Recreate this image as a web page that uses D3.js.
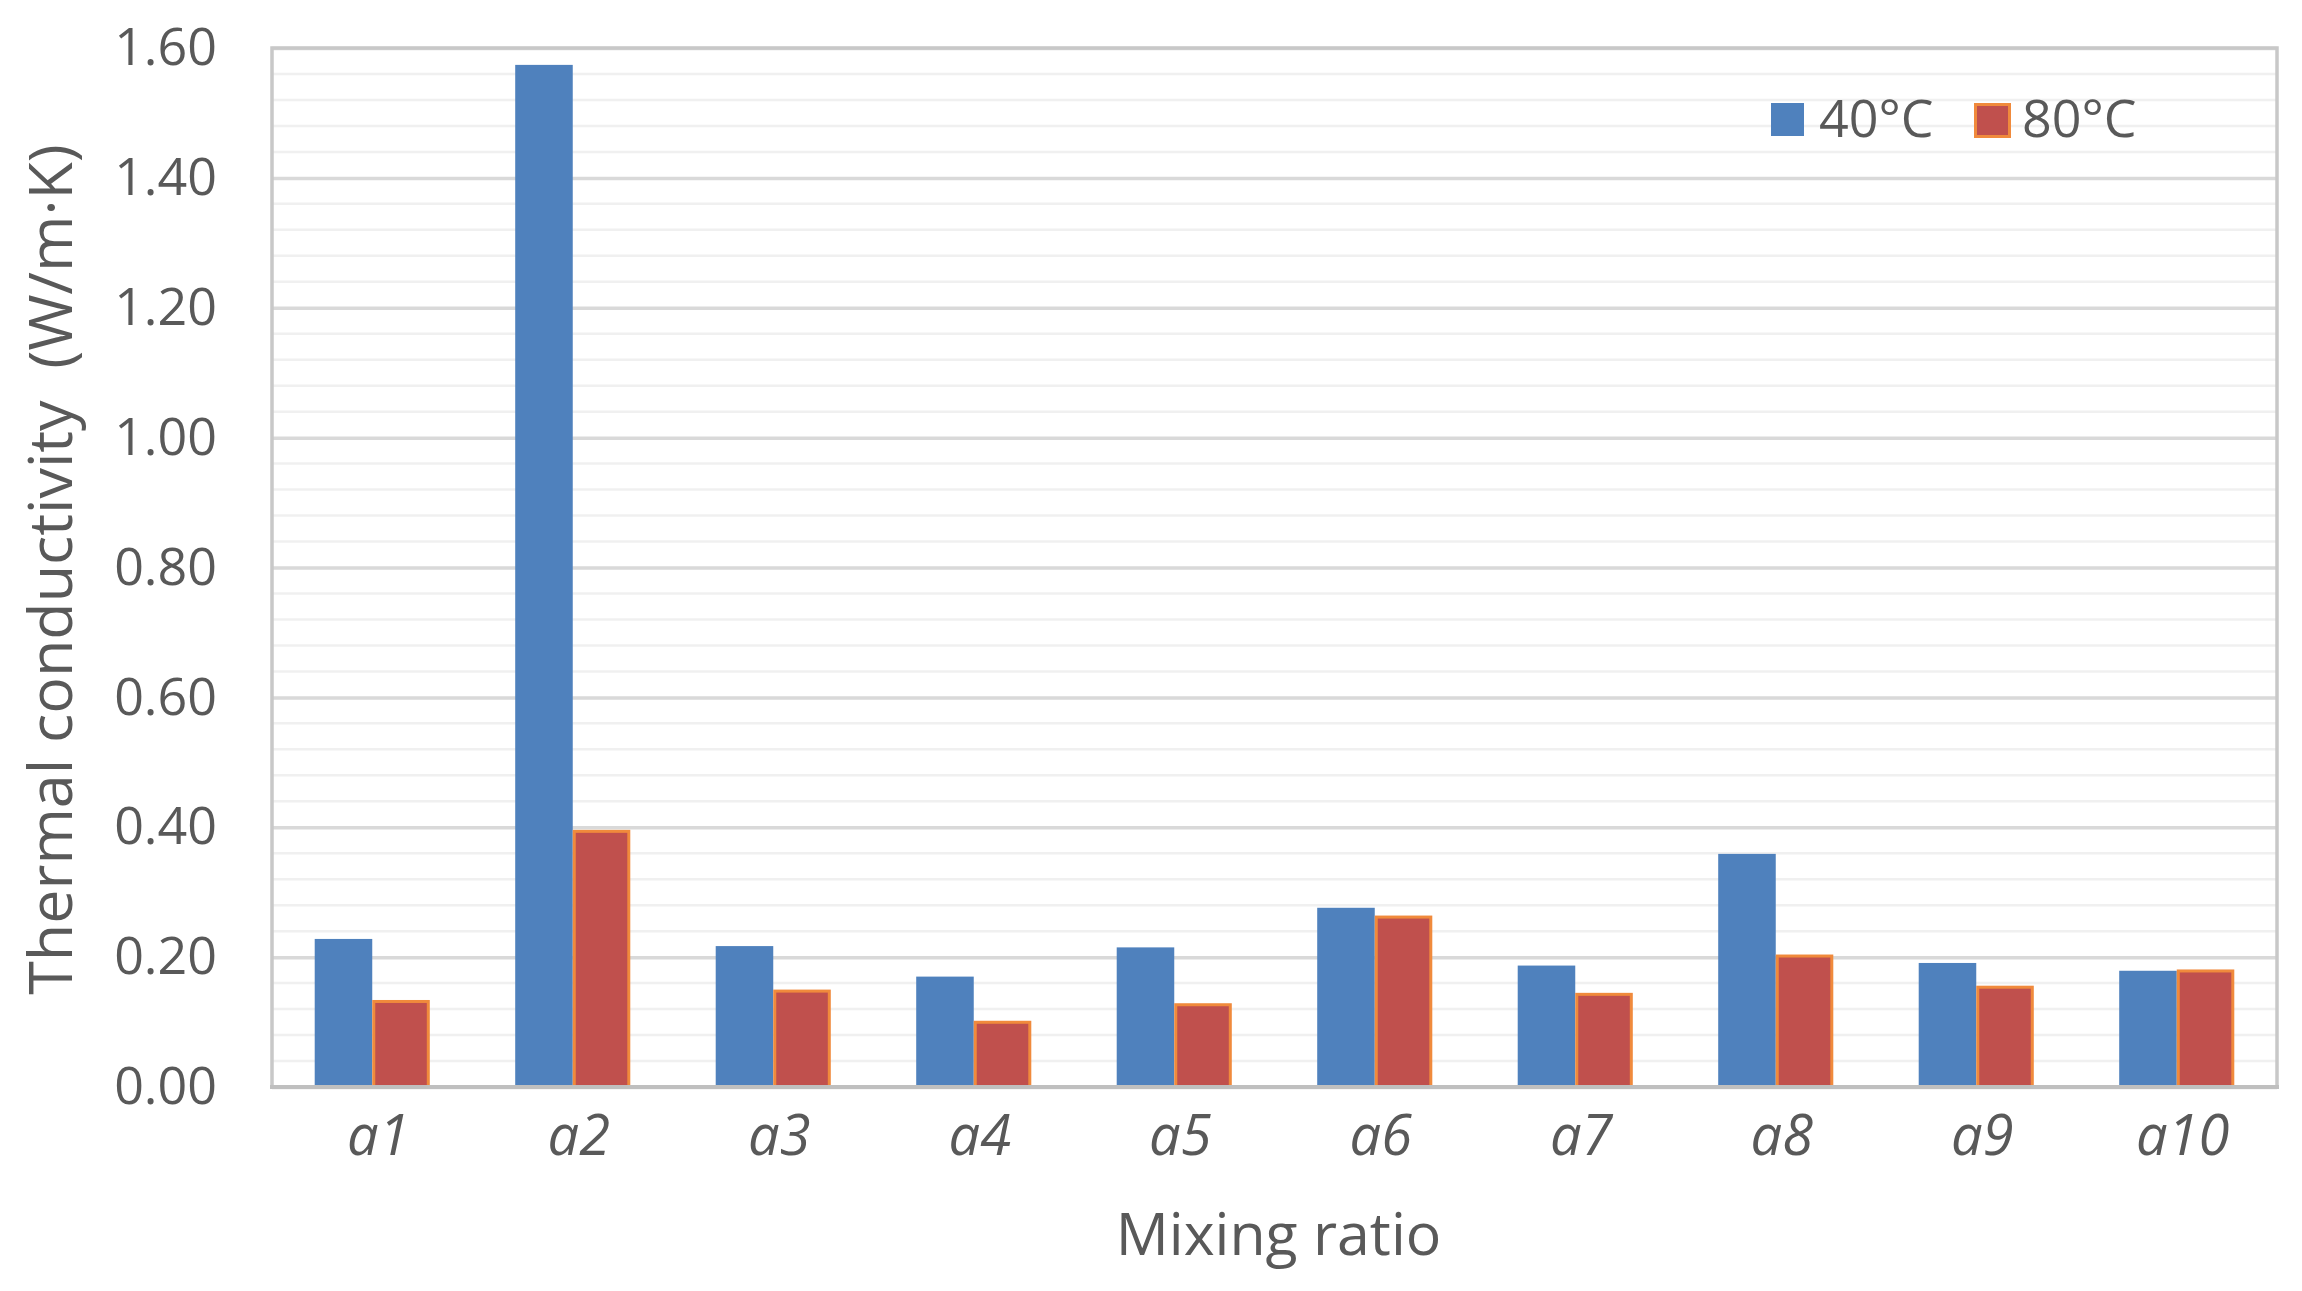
<!DOCTYPE html>
<html>
<head>
<meta charset="utf-8">
<script src="https://cdn.jsdelivr.net/npm/d3@7"></script>
<style>
  html, body { margin: 0; padding: 0; background: #fff; }
  svg { display: block; }
  text { font-family: "Open Sans", "Noto Sans", sans-serif; fill: #595959; }
</style>
</head>
<body>
<svg id="chart" width="2302" height="1291"></svg>
<script>
const categories = ['a1', 'a2', 'a3', 'a4', 'a5', 'a6', 'a7', 'a8', 'a9', 'a10'];
const series = ['40°C', '80°C'];
const values40 = [0.228, 1.574, 0.217, 0.170, 0.215, 0.276, 0.187, 0.359, 0.191, 0.179];
const values80 = [0.134, 0.396, 0.150, 0.102, 0.129, 0.264, 0.145, 0.204, 0.156, 0.181];
const yTicks = [0, 0.2, 0.4, 0.6, 0.8, 1.0, 1.2, 1.4, 1.6];
const yMinorStep = 0.04;

const W = 2302, H = 1291;
const margin = { left: 272, right: W - 2277, top: 48, bottom: H - 1087 };

const fills = { '40°C': '#4f81bd', '80°C': '#c0504d' };
const strokes = { '40°C': 'none', '80°C': '#f08a3c' };

const svg = d3.select('#chart');

const x0 = d3.scaleBand()
  .domain(categories)
  .range([margin.left, W - margin.right])
  .paddingInner(0.426)
  .paddingOuter(0.213);

const x1 = d3.scaleBand()
  .domain(series)
  .range([0, x0.bandwidth()]);

const y = d3.scaleLinear()
  .domain([0, 1.6])
  .range([H - margin.bottom, margin.top]);

// minor gridlines
const minor = d3.range(0, 1.6 + 1e-9, yMinorStep).filter(v => Math.abs(v / 0.2 - Math.round(v / 0.2)) > 1e-6);
svg.append('g')
  .selectAll('line')
  .data(minor)
  .join('line')
  .attr('x1', margin.left)
  .attr('x2', W - margin.right)
  .attr('y1', d => y(d))
  .attr('y2', d => y(d))
  .attr('stroke', '#f0f0f0')
  .attr('stroke-width', 2.5);

// major gridlines + tick labels via axis
const yAxis = svg.append('g')
  .attr('transform', `translate(${margin.left},0)`)
  .call(d3.axisLeft(y)
    .tickValues(yTicks)
    .tickSize(-(W - margin.left - margin.right))
    .tickPadding(55)
    .tickFormat(d3.format('.2f')));
yAxis.select('.domain').remove();
yAxis.selectAll('.tick line')
  .attr('stroke', '#d9d9d9')
  .attr('stroke-width', 3.5);
yAxis.selectAll('.tick text')
  .attr('font-size', 52)
  .attr('fill', '#595959')
  .attr('font-family', '"Open Sans", sans-serif');

// plot border
svg.append('rect')
  .attr('x', margin.left)
  .attr('y', margin.top)
  .attr('width', W - margin.left - margin.right)
  .attr('height', H - margin.top - margin.bottom)
  .attr('fill', 'none')
  .attr('stroke', '#c8c8c8')
  .attr('stroke-width', 3.5);

// bars
const rows = categories.map((c, i) => ({ cat: c, vals: [
  { key: '40°C', v: values40[i] },
  { key: '80°C', v: values80[i] }
] }));

const groups = svg.append('g')
  .selectAll('g')
  .data(rows)
  .join('g')
  .attr('transform', d => `translate(${x0(d.cat)},0)`);

groups.selectAll('rect')
  .data(d => d.vals)
  .join('rect')
  .attr('x', d => x1(d.key) + (d.key === '80°C' ? 1.5 : 0))
  .attr('width', d => x1.bandwidth() - (d.key === '80°C' ? 3 : 0))
  .attr('y', d => y(d.v) + (d.key === '80°C' ? 1.5 : 0))
  .attr('height', d => y(0) - y(d.v) - (d.key === '80°C' ? 1.5 : 0))
  .attr('fill', d => fills[d.key])
  .attr('stroke', d => strokes[d.key])
  .attr('stroke-width', 3);

// bottom axis line
svg.append('line')
  .attr('x1', margin.left - 2)
  .attr('x2', W - margin.right + 2)
  .attr('y1', y(0))
  .attr('y2', y(0))
  .attr('stroke', '#bfbfbf')
  .attr('stroke-width', 4);

// category labels
const xAxis = svg.append('g')
  .attr('transform', `translate(0,${y(0)})`)
  .call(d3.axisBottom(x0).tickSize(0).tickPadding(28));
xAxis.select('.domain').remove();
xAxis.selectAll('.tick text')
  .attr('font-size', 56)
  .attr('font-style', 'italic')
  .attr('dx', 6)
  .attr('fill', '#595959')
  .attr('font-family', '"Open Sans", sans-serif');

// axis titles
svg.append('text')
  .attr('x', (margin.left + W - margin.right) / 2 + 4)
  .attr('y', 1255)
  .attr('text-anchor', 'middle')
  .attr('font-size', 59)
  .text('Mixing ratio');

svg.append('text')
  .attr('transform', `translate(72,${(margin.top + H - margin.bottom) / 2 + 2}) rotate(-90)`)
  .attr('text-anchor', 'middle')
  .attr('font-size', 61)
  .attr('xml:space', 'preserve')
  .style('white-space', 'pre')
  .text('Thermal conductivity  (W/m·K)');

// legend
const legendX = [1771, 1974];
const legend = svg.append('g')
  .selectAll('g')
  .data(series)
  .join('g')
  .attr('transform', (d, i) => `translate(${legendX[i]},103)`);
legend.append('rect')
  .attr('x', d => d === '80°C' ? 1.5 : 0)
  .attr('y', d => d === '80°C' ? 1.5 : 0)
  .attr('width', d => d === '80°C' ? 34 : 33)
  .attr('height', d => d === '80°C' ? 32 : 33)
  .attr('fill', d => fills[d])
  .attr('stroke', d => strokes[d])
  .attr('stroke-width', 3);
legend.append('text')
  .attr('x', 48)
  .attr('y', 34)
  .attr('font-size', 52)
  .text(d => d);
</script>
</body>
</html>
